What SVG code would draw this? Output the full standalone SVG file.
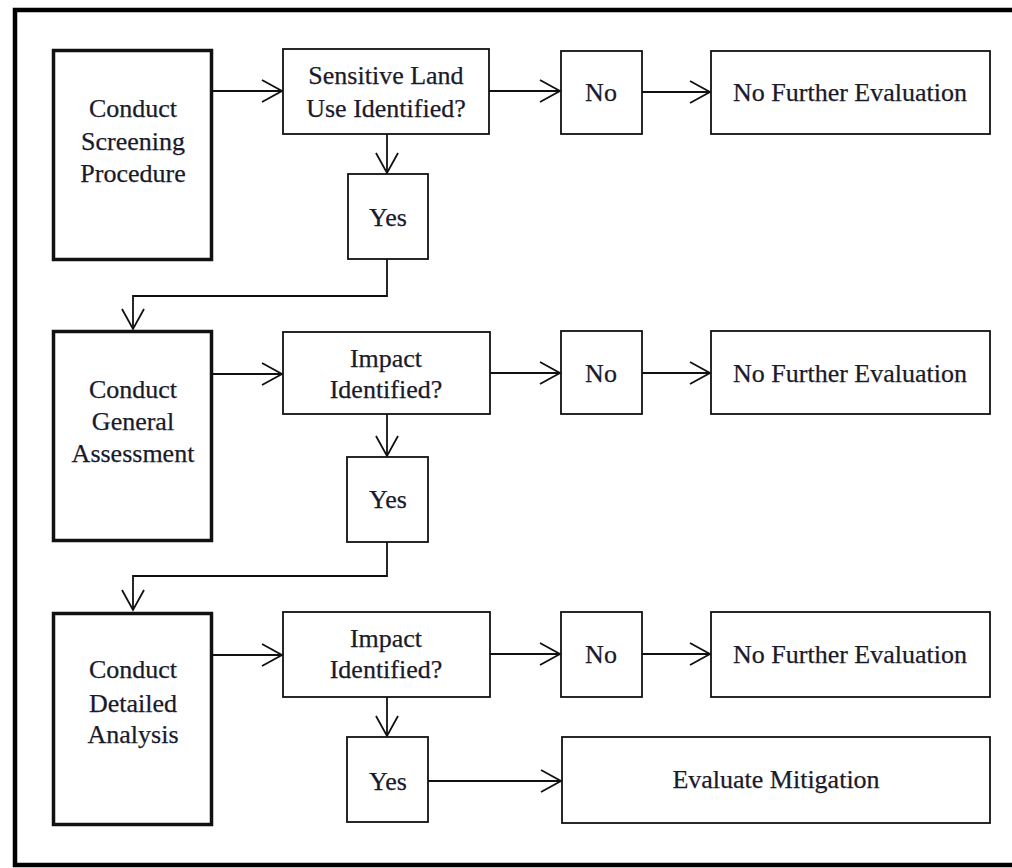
<svg xmlns="http://www.w3.org/2000/svg" width="1012" height="868" viewBox="0 0 1012 868">
<defs>
<marker id="arr" viewBox="0 0 24 24" markerWidth="24" markerHeight="24" refX="22" refY="12" markerUnits="userSpaceOnUse" orient="auto">
<path d="M2,1 L22,12 L2,23" fill="none" stroke="#111" stroke-width="1.8"/>
</marker>
<style>
.thick{fill:#fff;stroke:#111;stroke-width:3.5}
.thin{fill:#fff;stroke:#111;stroke-width:1.8}
.t{font-family:"Liberation Serif","Times New Roman",serif;font-size:26px;fill:#1a1a2a;stroke:#1a1a2a;stroke-width:0.25;text-anchor:middle}
.c{fill:none;stroke:#111;stroke-width:1.8}
</style>
</defs>
<rect width="1012" height="868" fill="#fff"/>
<path d="M1014,10 H15 V865 H1014" fill="none" stroke="#000" stroke-width="4.5"/>

<g id="connectors">
<line class="c" x1="213" y1="91" x2="282" y2="91" marker-end="url(#arr)"/>
<line class="c" x1="489" y1="91" x2="560" y2="91" marker-end="url(#arr)"/>
<line class="c" x1="642" y1="92" x2="710" y2="92" marker-end="url(#arr)"/>
<line class="c" x1="387" y1="134" x2="387" y2="173" marker-end="url(#arr)"/>
<polyline class="c" points="387,259 387,296 133,296 133,329" marker-end="url(#arr)"/>

<line class="c" x1="213" y1="374" x2="282" y2="374" marker-end="url(#arr)"/>
<line class="c" x1="490" y1="373" x2="560" y2="373" marker-end="url(#arr)"/>
<line class="c" x1="642" y1="373" x2="710" y2="373" marker-end="url(#arr)"/>
<line class="c" x1="387" y1="414" x2="387" y2="456" marker-end="url(#arr)"/>
<polyline class="c" points="387,542 387,576 133,576 133,610" marker-end="url(#arr)"/>

<line class="c" x1="213" y1="655" x2="282" y2="655" marker-end="url(#arr)"/>
<line class="c" x1="490" y1="654" x2="560" y2="654" marker-end="url(#arr)"/>
<line class="c" x1="642" y1="654" x2="710" y2="654" marker-end="url(#arr)"/>
<line class="c" x1="387" y1="697" x2="387" y2="736" marker-end="url(#arr)"/>
<line class="c" x1="428" y1="781" x2="561" y2="781" stroke-width="2.4" marker-end="url(#arr)"/>
</g>

<g id="screening">
<rect class="thick" x="53.5" y="50.5" width="158" height="209"/>
<text class="t" x="133" y="117">Conduct</text>
<text class="t" x="133" y="150">Screening</text>
<text class="t" x="133" y="182">Procedure</text>
</g>
<g id="sensitive">
<rect class="thin" x="283" y="49" width="206" height="85"/>
<text class="t" x="386" y="84">Sensitive Land</text>
<text class="t" x="386" y="117">Use Identified?</text>
</g>
<g id="no1">
<rect class="thin" x="561" y="51" width="81" height="83"/>
<text class="t" x="601" y="101">No</text>
</g>
<g id="nfe1">
<rect class="thin" x="711" y="51" width="279" height="83"/>
<text class="t" x="850" y="101">No Further Evaluation</text>
</g>
<g id="yes1">
<rect class="thin" x="348" y="174" width="80" height="85"/>
<text class="t" x="388" y="226">Yes</text>
</g>

<g id="general">
<rect class="thick" x="53.5" y="331.5" width="158" height="209"/>
<text class="t" x="133" y="398">Conduct</text>
<text class="t" x="133" y="430">General</text>
<text class="t" x="133" y="462">Assessment</text>
</g>
<g id="impact2">
<rect class="thin" x="283" y="332" width="207" height="82"/>
<text class="t" x="386" y="367">Impact</text>
<text class="t" x="386" y="398">Identified?</text>
</g>
<g id="no2">
<rect class="thin" x="561" y="331" width="81" height="83"/>
<text class="t" x="601" y="382">No</text>
</g>
<g id="nfe2">
<rect class="thin" x="711" y="331" width="279" height="83"/>
<text class="t" x="850" y="382">No Further Evaluation</text>
</g>
<g id="yes2">
<rect class="thin" x="347" y="457" width="81" height="85"/>
<text class="t" x="388" y="508">Yes</text>
</g>

<g id="detailed">
<rect class="thick" x="53.5" y="613.5" width="158" height="211"/>
<text class="t" x="133" y="678">Conduct</text>
<text class="t" x="133" y="712">Detailed</text>
<text class="t" x="133" y="743">Analysis</text>
</g>
<g id="impact3">
<rect class="thin" x="283" y="612" width="207" height="85"/>
<text class="t" x="386" y="647">Impact</text>
<text class="t" x="386" y="678">Identified?</text>
</g>
<g id="no3">
<rect class="thin" x="561" y="612" width="81" height="85"/>
<text class="t" x="601" y="663">No</text>
</g>
<g id="nfe3">
<rect class="thin" x="711" y="612" width="279" height="85"/>
<text class="t" x="850" y="663">No Further Evaluation</text>
</g>
<g id="yes3">
<rect class="thin" x="347" y="737" width="81" height="85"/>
<text class="t" x="388" y="790">Yes</text>
</g>
<g id="mitigation">
<rect class="thin" x="562" y="737" width="428" height="86"/>
<text class="t" x="776" y="788">Evaluate Mitigation</text>
</g>
</svg>
